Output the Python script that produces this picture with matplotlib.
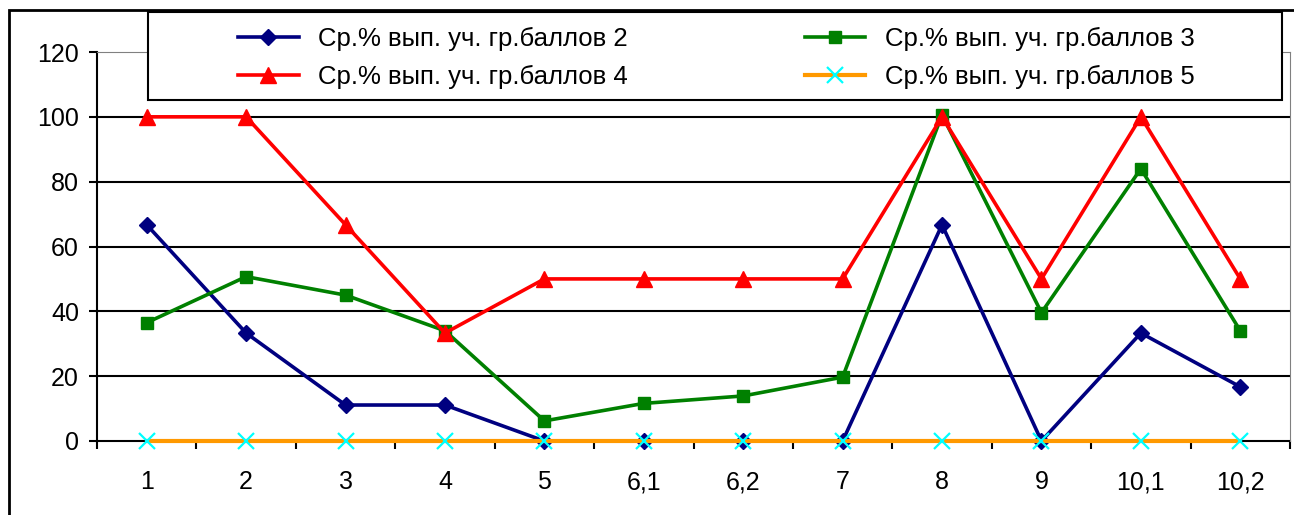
import matplotlib.pyplot as plt
import matplotlib.patches as mpatches
import numpy as np

plt.rcParams['font.family'] = ['Liberation Sans', 'DejaVu Sans']

categories = ["1", "2", "3", "4", "5", "6,1", "6,2", "7", "8", "9", "10,1", "10,2"]
ball2 = [66.7, 33.3, 11.1, 11.1, 0, 0, 0, 0, 66.7, 0, 33.3, 16.7]
ball3 = [36.5, 50.7, 45.0, 34.0, 6.2, 11.6, 13.9, 19.7, 100.6, 39.6, 84.0, 34.0]
ball4 = [100, 100, 66.7, 33.3, 50, 50, 50, 50, 100, 50, 100, 50]
ball5 = [0, 0, 0, 0, 0, 0, 0, 0, 0, 0, 0, 0]
labels = ["Ср.% вып. уч. гр.баллов 2", "Ср.% вып. уч. гр.баллов 3",
          "Ср.% вып. уч. гр.баллов 4", "Ср.% вып. уч. гр.баллов 5"]
yticks = [0, 20, 40, 60, 80, 100, 120]

fig = plt.figure(figsize=(12.94, 5.15), dpi=100)
ax = fig.add_axes([97/1294, 74/515, 1193/1294, 389/515])

x = np.arange(len(categories))
lw = 2.6
l2, = ax.plot(x, ball2, color="#000080", lw=lw, marker="D", ms=8, zorder=3, clip_on=False)
l3, = ax.plot(x, ball3, color="#008000", lw=lw, marker="s", ms=9, zorder=3, clip_on=False)
l4, = ax.plot(x, ball4, color="#ff0000", lw=lw, marker="^", ms=11, zorder=3, clip_on=False)
l5, = ax.plot(x, ball5, color="#ff9900", lw=lw + 0.4, marker="x", ms=11, mec="#00ffff",
              mew=1.6, zorder=3, clip_on=False)

ax.set_xlim(-0.5, len(categories) - 0.5)
ax.set_ylim(0, 120)
ax.set_yticks(yticks)
ax.set_yticklabels([str(v) for v in yticks])
ax.set_xticks(x)
ax.set_xticklabels(categories)
ax.set_xticks(np.arange(-0.5, len(categories)), minor=True)
ax.tick_params(axis="x", which="major", length=0, pad=21, labelsize=18)
ax.tick_params(axis="x", which="minor", length=6, width=1.5, direction="out")
ax.tick_params(axis="y", length=6, width=1.5, pad=7, labelsize=18)

for v in yticks[1:-1]:
    ax.axhline(v, color="black", lw=1.5, zorder=1)
ax.spines["top"].set_color("#808080")
ax.spines["right"].set_color("#808080")
ax.spines["left"].set_linewidth(1.5)
ax.spines["bottom"].set_linewidth(1.5)
ax.spines["bottom"].set_zorder(2)

# outer chart border
fig.patches.append(mpatches.Rectangle((9/1294, -0.1), 1.1, 1.1 - 10/515,
                                      transform=fig.transFigure, fill=False,
                                      lw=2, ec="black", zorder=0))

# legend frame
fig.patches.append(mpatches.Rectangle((148/1294, 1 - 100/515), (1282 - 148)/1294, 88/515,
                                      transform=fig.transFigure, fc="white",
                                      ec="black", lw=1.5, zorder=4))
leg = fig.legend([l2, l4, l3, l5], [labels[0], labels[2], labels[1], labels[3]],
                 ncol=2, frameon=False, fontsize=18.5, handlelength=2.35,
                 handletextpad=0.75, columnspacing=6.9, labelspacing=0.52,
                 borderaxespad=0, loc="upper left",
                 bbox_to_anchor=(228/1294, 1 - 17/515))
leg.set_zorder(5)

fig.savefig("out.png", dpi=100)
